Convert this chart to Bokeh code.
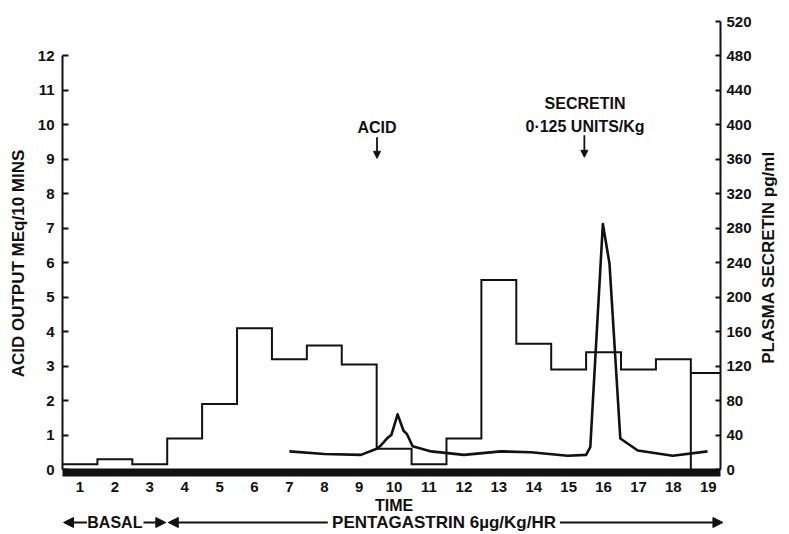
import math
from bokeh.plotting import figure
from bokeh.layouts import column, row
from bokeh.models import Range1d, LinearAxis, FixedTicker, Arrow, NormalHead, Label
from bokeh.embed import file_html
from bokeh.resources import INLINE

# ---------------- data ----------------
periods = list(range(1, 20))
acid_output = [0.15, 0.3, 0.15, 0.9, 1.9, 4.1, 3.2, 3.6, 3.05, 0.6,
               0.15, 0.9, 5.5, 3.65, 2.9, 3.4, 2.9, 3.2, 2.8]
secretin_time = [7.0, 8.0, 9.05, 9.5, 9.62, 9.82, 9.92, 10.1, 10.27, 10.37,
                 10.53, 11.06, 12.0, 13.06, 13.92, 14.97, 15.5, 15.62, 15.98,
                 16.17, 16.48, 16.98, 17.98, 18.98]
secretin_pg = [21, 18, 17, 24, 28, 37, 40, 64, 45, 41,
               27, 21, 17, 21, 20, 16, 17, 26, 285,
               239, 36, 22, 16, 21]
left_ticks = list(range(0, 13))
right_ticks = list(range(0, 521, 40))
drop_period = 18  # step trace drops to baseline after this period

FONT = "Liberation Sans"
INK = "#111111"

X_START, X_END = 0.5, 19.35
FRAME_W, FRAME_H = 658, 452
LEFT_W, BORDER_L, BORDER_R, RIGHT_W = 34, 28, 36, 31
TOP_B, BOT_B = 20, 24
MAIN_H = TOP_B + FRAME_H + BOT_B


def blank(fig):
    fig.outline_line_color = None
    fig.grid.grid_line_color = None
    fig.background_fill_color = "white"
    fig.border_fill_color = "white"


def label(fig, x, y, text, size="16px", angle=0):
    fig.add_layout(Label(x=x, y=y, text=text, text_align="center",
                         text_baseline="middle", text_font=FONT,
                         text_font_style="bold", text_font_size=size,
                         text_color=INK, angle=angle))


def arrow(fig, x0, y0, x1, y1, size=8, lw=2):
    fig.add_layout(Arrow(x_start=x0, y_start=y0, x_end=x1, y_end=y1,
                         line_color=INK, line_width=lw,
                         end=NormalHead(size=size, fill_color=INK,
                                        line_color=INK, line_width=1)))


# ---------------- main plot ----------------
p = figure(frame_width=FRAME_W, frame_height=FRAME_H,
           x_range=Range1d(X_START, X_END), y_range=Range1d(-0.087, 13.03),
           output_backend="svg", toolbar_location=None,
           min_border_left=BORDER_L, min_border_right=BORDER_R,
           min_border_top=TOP_B, min_border_bottom=BOT_B)
blank(p)
p.extra_y_ranges = {"sec": Range1d(-0.087 * 40, 13.03 * 40)}

# step trace (acid output)
xs, ys = [], []
for i, (k, v) in enumerate(zip(periods, acid_output)):
    left = k - 0.5
    right = k + 0.5 if i < len(periods) - 1 else X_END
    xs += [left, right]
    ys += [v, v]
    if k == drop_period:
        xs += [right]
        ys += [0]
p.line(xs, ys, line_color=INK, line_width=2, line_join="miter")

# plasma secretin
p.line(secretin_time, secretin_pg, y_range_name="sec",
       line_color=INK, line_width=2.6, line_join="round")

# axes
xa = p.xaxis[0]
xa.ticker = FixedTicker(ticks=periods)
xa.axis_line_width = 8
xa.major_label_standoff = 3

ya = p.yaxis[0]
ya.ticker = FixedTicker(ticks=left_ticks)
ya.bounds = (0, 12)
ya.axis_line_width = 2
ya.major_tick_in = 6
ya.major_tick_out = 0
ya.major_label_standoff = 8

ra = LinearAxis(y_range_name="sec", ticker=FixedTicker(ticks=right_ticks),
                bounds=(0, 520))
ra.axis_line_width = 2
ra.major_tick_in = 5
ra.major_tick_out = 0
ra.major_label_standoff = 6
p.add_layout(ra, "right")

for ax in [xa, ya, ra]:
    ax.axis_line_color = INK
    ax.major_tick_line_width = 2
    ax.major_tick_line_color = INK if ax is not xa else None
    ax.minor_tick_line_color = None
    ax.major_label_text_font = FONT
    ax.major_label_text_font_style = "bold"
    ax.major_label_text_font_size = "15px"
    ax.major_label_text_color = INK

# event annotations
label(p, 9.51, 9.93, "ACID")
arrow(p, 9.51, 9.64, 9.51, 9.03, size=7, lw=1.8)

label(p, 15.47, 10.62, "SECRETIN")
label(p, 15.47, 9.96, "0\u00b7125 UNITS/Kg")
arrow(p, 15.45, 9.70, 15.45, 9.06, size=7, lw=1.8)

# ---------------- axis titles (side panels) ----------------
pl = figure(frame_width=LEFT_W, frame_height=MAIN_H,
            x_range=Range1d(0, LEFT_W), y_range=Range1d(0, MAIN_H),
            output_backend="svg", toolbar_location=None,
            x_axis_location=None, y_axis_location=None,
            min_border=0)
blank(pl)
label(pl, 18, MAIN_H - 243, "ACID OUTPUT MEq/10 MINS", size="17px",
      angle=math.pi / 2)

pr = figure(frame_width=RIGHT_W, frame_height=MAIN_H,
            x_range=Range1d(0, RIGHT_W), y_range=Range1d(0, MAIN_H),
            output_backend="svg", toolbar_location=None,
            x_axis_location=None, y_axis_location=None,
            min_border=0)
blank(pr)
label(pr, 12, MAIN_H - 237, "PLASMA SECRETIN pg/ml", size="17px",
      angle=math.pi / 2)

# ---------------- bottom: TIME + treatment periods ----------------
px_per_unit = FRAME_W / (X_END - X_START)
FRAME_W2 = FRAME_W + 5
BOT_H = 37
p2 = figure(frame_width=FRAME_W2, frame_height=BOT_H,
            x_range=Range1d(X_START, X_START + FRAME_W2 / px_per_unit),
            y_range=Range1d(0, BOT_H),
            output_backend="svg", toolbar_location=None,
            x_axis_location=None, y_axis_location=None,
            min_border_left=LEFT_W + BORDER_L,
            min_border_right=BORDER_R + RIGHT_W - 5,
            min_border_top=0, min_border_bottom=0)
blank(p2)

# y in pixels above the bottom of this strip (strip spans page y 496..533)
label(p2, 10.0, BOT_H - 9, "TIME", size="16px")

yb = BOT_H - 26
label(p2, 2.0, yb, "BASAL", size="16px")
arrow(p2, 1.2, yb, 0.53, yb, size=10)
arrow(p2, 2.82, yb, 3.46, yb, size=10)

label(p2, 11.43, yb, "PENTAGASTRIN 6\u00b5g/Kg/HR", size="17px")
arrow(p2, 8.1, yb, 3.53, yb, size=10)
arrow(p2, 14.75, yb, 19.42, yb, size=10)

layout = column(row(pl, p, pr, spacing=0), p2, spacing=0)
open("out.html", "w").write(file_html(layout, INLINE))
